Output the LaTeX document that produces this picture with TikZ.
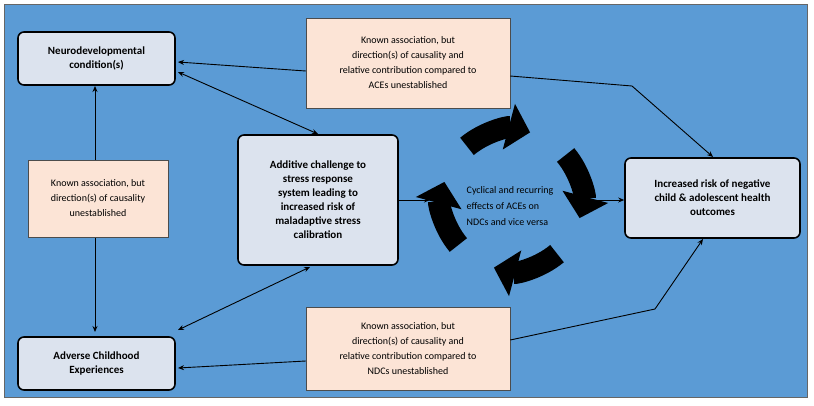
\documentclass[tikz,border=0pt]{standalone}
\usepackage{fontspec}
\setmainfont{Carlito}
\usetikzlibrary{arrows.meta,calc}
\definecolor{bg}{HTML}{5B9BD5}
\definecolor{peach}{HTML}{FCE4D6}
\definecolor{gbox}{HTML}{DCE3EE}
\begin{document}
\begin{tikzpicture}[x=1pt,y=-1pt,
  main/.style={draw=black,line width=1.6pt,rounded corners=6pt,fill=gbox,align=center,font=\bfseries\fontsize{11}{14}\selectfont,inner sep=2pt},
  note/.style={draw=black!70,line width=0.5pt,fill=peach,align=center,font=\fontsize{10}{15}\selectfont,inner sep=2pt},
  con/.style={line width=0.9pt,-{Stealth[length=6pt,width=5pt]}},
  dcon/.style={line width=0.9pt,{Stealth[length=6pt,width=5pt]}-{Stealth[length=6pt,width=5pt]}},
  cyc/.style={line width=22pt,-{Triangle[length=22pt,width=46pt]}}]
\useasboundingbox (0,0) rectangle (814,405);
\fill[bg] (4,4) rectangle (807,397);
\draw[black!60,line width=0.4pt] (4,4) rectangle (807,397);
% nodes
\node[main,minimum width=157pt,minimum height=53pt] (nd) at (96.5,58.5) {Neurodevelopmental\\condition(s)};
\node[main,minimum width=157pt,minimum height=53pt] (ace) at (96.5,363.5) {Adverse Childhood\\Experiences};
\node[main,minimum width=160pt,minimum height=130pt] (add) at (318,200) {Additive challenge to\\stress response\\system leading to\\increased risk of\\maladaptive stress\\calibration};
\node[main,minimum width=175pt,minimum height=80pt] (out) at (712.5,198) {Increased risk of negative\\child \& adolescent health\\outcomes};
\coordinate (cc) at (512,200);
\coordinate (cl) at (430,200);
\coordinate (cr) at (596,200);
% connectors behind notes
\draw[dcon] (95,86) -- (95,332);
\draw[dcon] (178,72) -- (318,134);
\draw[dcon] (178,330) -- (310,267);
\node[note,minimum width=204pt,minimum height=90pt] (tn) at (408,63) {Known association, but\\direction(s) of causality and\\relative contribution compared to\\ACEs unestablished};
\node[note,minimum width=140pt,minimum height=77pt] (ln) at (98,198.5) {Known association, but\\direction(s) of causality\\unestablished};
\node[note,minimum width=204pt,minimum height=83pt] (bn) at (408,348.5) {Known association, but\\direction(s) of causality and\\relative contribution compared to\\NDCs unestablished};
\draw[con] (tn.west |- 0,71) -- (178,62);
\draw[con] (tn.east |- 0,76) -- (632,86) -- (713,157);
\draw[con] (bn.west |- 0,361) -- (178,368);
\draw[con] (bn.east |- 0,340) -- (655,309) -- (703,239);
\draw[con] (add.east) -- (cl);
\draw[con] (cr) -- (out.west |- cr);
% cycle
\foreach \a in {0,90,180,270}{
  \draw[cyc] ($(cc)+({-(130-\a)}:70)$) arc[start angle={-(130-\a)},end angle={-(75-\a)},radius=70];
}
\node[align=left,font=\fontsize{10}{16}\selectfont] (ct) at (510,206) {Cyclical and recurring\\effects of ACEs on\\NDCs and vice versa};
\end{tikzpicture}
\end{document}
